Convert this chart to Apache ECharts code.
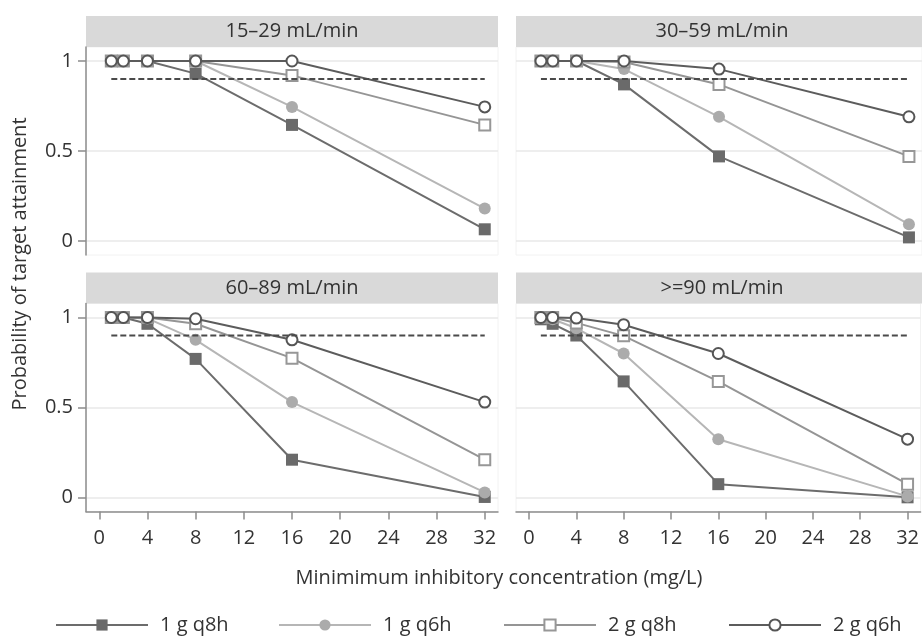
<!DOCTYPE html>
<html>
<head>
<meta charset="utf-8">
<script src="https://cdn.jsdelivr.net/npm/echarts@6/dist/echarts.min.js"></script>
<style>
  html, body { margin: 0; padding: 0; background: #fff; }
  #chart { width: 922px; height: 638px; }
</style>
</head>
<body>
<div id="chart"></div>
<script>
// ---------------- data ----------------
const mic = [1, 2, 4, 8, 16, 32];
const xTicks = [0, 4, 8, 12, 16, 20, 24, 28, 32];
const yTicks = [0, 0.5, 1];
const threshold = 0.9;
const panelTitles = ['15\u201329 mL/min', '30\u201359 mL/min', '60\u201389 mL/min', '>=90 mL/min'];
const regimens = ['1 g q8h', '1 g q6h', '2 g q8h', '2 g q6h'];
const xTitle = 'Minimimum inhibitory concentration (mg/L)';
const yTitle = 'Probability of target attainment';

// 15-29 mL/min
const p1_1g_q8h = [1, 1, 1, 0.93, 0.645, 0.065];
const p1_1g_q6h = [1, 1, 1, 1, 0.745, 0.18];
const p1_2g_q8h = [1, 1, 1, 1, 0.92, 0.645];
const p1_2g_q6h = [1, 1, 1, 1, 1, 0.745];
// 30-59 mL/min
const p2_1g_q8h = [1, 1, 1, 0.87, 0.47, 0.02];
const p2_1g_q6h = [1, 1, 1, 0.955, 0.69, 0.093];
const p2_2g_q8h = [1, 1, 1, 0.995, 0.87, 0.47];
const p2_2g_q6h = [1, 1, 1, 1, 0.955, 0.69];
// 60-89 mL/min
const p3_1g_q8h = [1, 1, 0.965, 0.77, 0.21, 0.003];
const p3_1g_q6h = [1, 1, 0.995, 0.876, 0.53, 0.028];
const p3_2g_q8h = [1, 1, 1, 0.965, 0.774, 0.21];
const p3_2g_q6h = [1, 1, 1, 0.993, 0.876, 0.53];
// >=90 mL/min
const p4_1g_q8h = [0.99, 0.965, 0.9, 0.645, 0.074, 0.001];
const p4_1g_q6h = [1, 0.99, 0.94, 0.80, 0.324, 0.006];
const p4_2g_q8h = [1, 1, 0.97, 0.898, 0.645, 0.074];
const p4_2g_q6h = [1, 1, 0.997, 0.96, 0.80, 0.324];

const panelData = [
  [p1_1g_q8h, p1_1g_q6h, p1_2g_q8h, p1_2g_q6h],
  [p2_1g_q8h, p2_1g_q6h, p2_2g_q8h, p2_2g_q6h],
  [p3_1g_q8h, p3_1g_q6h, p3_2g_q8h, p3_2g_q6h],
  [p4_1g_q8h, p4_1g_q6h, p4_2g_q8h, p4_2g_q6h]
];

// ---------------- layout / style ----------------
const FONT = 'Open Sans';
const TXT = '#333333';
const AXC = '#8c8c8c';
const panels = [
  { left: 86, top: 47, headTop: 16, showX: false, showY: true },
  { left: 516, top: 47, headTop: 16, showX: false, showY: false },
  { left: 86, top: 303.5, headTop: 272.5, showX: true, showY: true },
  { left: 516, top: 303.5, headTop: 272.5, showX: true, showY: false }
];
const PW = 412, PH = 208, HH = 31;

const styles = [
  { symbol: 'rect', size: 12, line: '#6c6c6c', item: { color: '#6a6a6a' } },
  { symbol: 'circle', size: 12, line: '#b6b6b6', item: { color: '#ababab' } },
  { symbol: 'rect', size: 11, line: '#959595', item: { color: '#ffffff', borderColor: '#979797', borderWidth: 2 } },
  { symbol: 'circle', size: 11, line: '#5c5c5c', item: { color: '#ffffff', borderColor: '#555555', borderWidth: 2 } }
];

const grid = [], xAxis = [], yAxis = [], series = [], graphic = [];

panels.forEach((p, i) => {
  grid.push({ left: p.left, top: p.top, width: PW, height: PH, show: true,
    borderColor: '#f2f2f2', borderWidth: 1, backgroundColor: 'transparent' });
  xAxis.push({
    type: 'value', gridIndex: i, min: -1.1, max: 33.1,
    axisLine: { show: p.showX, onZero: false, lineStyle: { color: AXC, width: 1.5 } },
    axisTick: { show: p.showX, customValues: xTicks, length: 8, lineStyle: { color: AXC, width: 1.5 } },
    axisLabel: { show: p.showX, customValues: xTicks, margin: 17, fontSize: 20, fontFamily: FONT, color: TXT },
    splitLine: { show: false }
  });
  yAxis.push({
    type: 'value', gridIndex: i, min: -0.0778, max: 1.0778,
    axisLine: { show: p.showY, onZero: false, lineStyle: { color: AXC, width: 1.5 } },
    axisTick: { show: p.showY, customValues: yTicks, length: 8, lineStyle: { color: AXC, width: 1.5 } },
    axisLabel: { show: p.showY, customValues: yTicks, margin: 13, fontSize: 20, fontFamily: FONT, color: TXT },
    splitLine: { show: true, lineStyle: { color: '#e8e8e8', width: 1.5 } }
  });
  panelData[i].forEach((vals, r) => {
    const s = styles[r];
    series.push({
      type: 'line', name: regimens[r], xAxisIndex: i, yAxisIndex: i,
      data: mic.map((m, k) => [m, vals[k]]),
      symbol: s.symbol, symbolSize: s.size,
      lineStyle: { color: s.line, width: 2 },
      itemStyle: Object.assign({}, s.item),
      z: 2 + r, clip: false, silent: true
    });
  });
  series.push({
    type: 'line', name: 'target', xAxisIndex: i, yAxisIndex: i,
    data: [[mic[0], threshold], [mic[mic.length - 1], threshold]],
    symbol: 'none', lineStyle: { color: '#4a4a4a', width: 2, type: [6, 3] },
    z: 10, silent: true
  });
  graphic.push({ type: 'rect', silent: true, z: 0,
    shape: { x: p.left, y: p.headTop, width: PW, height: HH },
    style: { fill: '#d9d9d9' } });
  graphic.push({ type: 'text', silent: true, z: 1,
    x: p.left + PW / 2, y: p.headTop + HH / 2,
    style: { text: panelTitles[i], fontSize: 20, fontFamily: FONT, fill: TXT,
      align: 'center', verticalAlign: 'middle' } });
});

graphic.push({ type: 'text', silent: true, x: 20, y: 264, rotation: Math.PI / 2,
  style: { text: yTitle, fontSize: 20, fontFamily: FONT, fill: TXT, align: 'center', verticalAlign: 'middle' } });
graphic.push({ type: 'text', silent: true, x: 499, y: 578,
  style: { text: xTitle, fontSize: 20, fontFamily: FONT, fill: TXT, align: 'center', verticalAlign: 'middle' } });

const legendLefts = [55, 278, 503, 728];
const legend = regimens.map((name, i) => ({
  data: [name], left: legendLefts[i], top: 615, orient: 'horizontal', padding: 0,
  itemWidth: 92, itemHeight: 14, itemGap: 0, selectedMode: false,
  textStyle: { fontSize: 20, fontFamily: FONT, color: TXT, padding: [0, 0, 0, 7] }
}));

const chart = echarts.init(document.getElementById('chart'), null, { renderer: 'canvas' });
chart.setOption({
  animation: false,
  backgroundColor: '#ffffff',
  grid, xAxis, yAxis, series, legend, graphic
});
</script>
</body>
</html>
